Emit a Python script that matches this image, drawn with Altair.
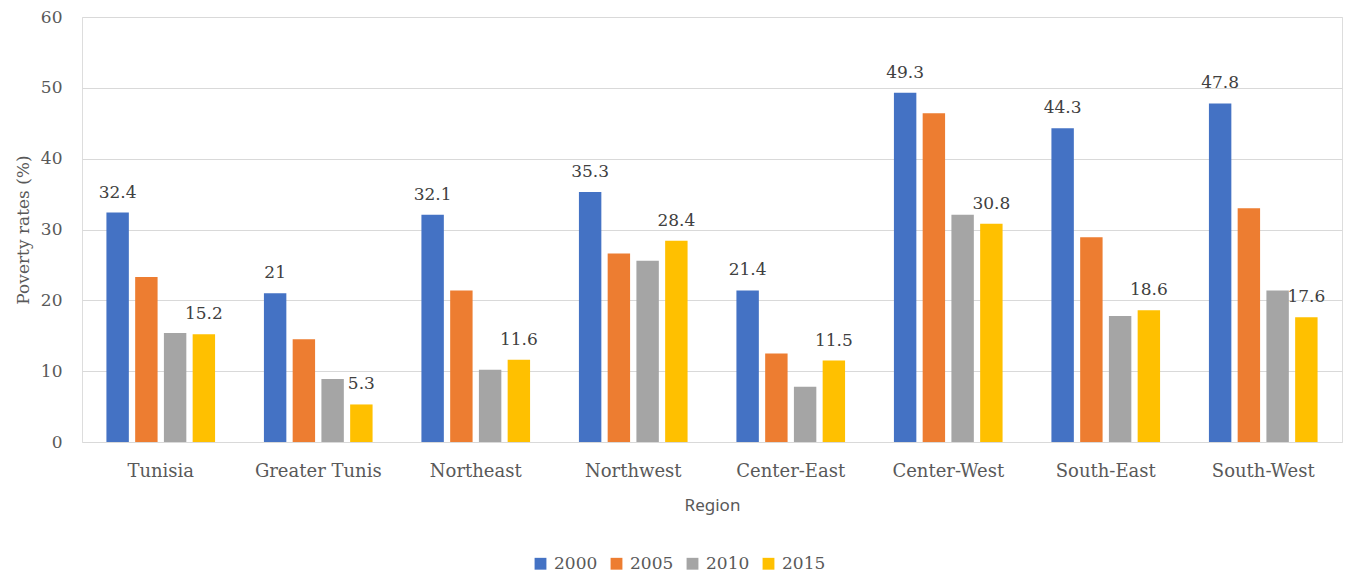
import altair as alt
import pandas as pd

regions = ["Tunisia", "Greater Tunis", "Northeast", "Northwest", "Center-East",
           "Center-West", "South-East", "South-West"]
years = ["2000", "2005", "2010", "2015"]
v2000 = [32.4, 21.0, 32.1, 35.3, 21.4, 49.3, 44.3, 47.8]
v2005 = [23.3, 14.5, 21.4, 26.6, 12.5, 46.4, 28.9, 33.0]
v2010 = [15.4, 8.9, 10.2, 25.6, 7.8, 32.1, 17.8, 21.4]
v2015 = [15.2, 5.3, 11.6, 28.4, 11.5, 30.8, 18.6, 17.6]
labelled_years = ["2000", "2015"]
colors = ["#4472C4", "#ED7D31", "#A5A5A5", "#FFC000"]

rows = []
for yr, vals in zip(years, [v2000, v2005, v2010, v2015]):
    for r, v in zip(regions, vals):
        rows.append({"Region": r, "Year": yr, "Rate": v,
                     "Label": (f"{v:g}" if yr in labelled_years else "")})
df = pd.DataFrame(rows)

serif = "DejaVu Serif"
x = alt.X("Region:N", sort=regions,
          scale=alt.Scale(paddingInner=0.27, paddingOuter=0.135),
          axis=alt.Axis(title="Region", labelAngle=0, labelFont=serif, labelFontSize=18,
                        labelColor="#595959", labelPadding=20, ticks=False, domain=False,
                        titleFont="Noto Sans", titleFontSize=17, titleFontWeight="normal",
                        titleColor="#595959", titlePadding=17))
xo = alt.XOffset("Year:N", sort=years, scale=alt.Scale(paddingInner=0.22, paddingOuter=0.11))
y = alt.Y("Rate:Q", scale=alt.Scale(domain=[0, 60], nice=False),
          axis=alt.Axis(title="Poverty rates (%)", values=[0, 10, 20, 30, 40, 50, 60],
                        labelFont=serif, labelFontSize=17, labelColor="#595959",
                        labelPadding=20, ticks=False, domain=False,
                        gridColor="#D9D9D9", gridWidth=1,
                        titleFont=serif, titleFontSize=17, titleFontWeight="normal",
                        titleColor="#595959", titlePadding=8))

bars = alt.Chart(df).mark_bar().encode(
    x=x, xOffset=xo, y=y,
    color=alt.Color("Year:N", sort=years,
                    scale=alt.Scale(domain=years, range=colors),
                    legend=alt.Legend(title=None, orient="none", direction="horizontal",
                                      legendX=450, legendY=538, symbolType="square",
                                      symbolSize=140, symbolStrokeWidth=0,
                                      labelFont=serif, labelFontSize=17,
                                      labelColor="#595959", labelOffset=5,
                                      columnPadding=10, padding=0, offset=0)),
)

labels = alt.Chart(df).transform_filter(
    alt.FieldOneOfPredicate(field="Year", oneOf=labelled_years)
).mark_text(font=serif, fontSize=17, color="#404040", baseline="middle", dy=-20).encode(
    x=alt.X("Region:N", sort=regions), xOffset=alt.XOffset("Year:N", sort=years),
    y=alt.Y("Rate:Q"), text="Label:N",
)

chart = alt.layer(bars, labels).properties(
    width=1260, height=425,
    padding={"left": 82, "top": 17, "right": 4, "bottom": 132},
    autosize=alt.AutoSizeParams(type="none"),
).configure_view(stroke=None).configure(background="white")

chart.save("out.html", embed_options={"renderer": "svg", "actions": False})
